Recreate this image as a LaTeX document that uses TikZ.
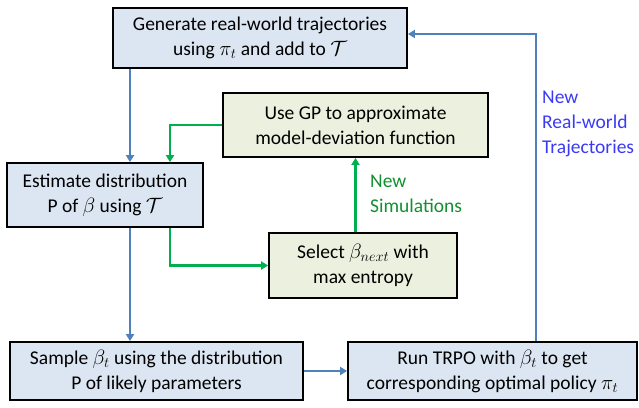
\documentclass[tikz,border=0pt]{standalone}
\usepackage{fontspec}
\setmainfont{Carlito}
\usetikzlibrary{arrows.meta,calc}
\definecolor{bfill}{HTML}{DCE6F2}
\definecolor{gfill}{HTML}{EBF1DE}
\definecolor{barr}{HTML}{4F81BD}
\definecolor{garr}{HTML}{00B050}
\definecolor{btxt}{HTML}{3A3AF5}
\definecolor{gtxt}{HTML}{109030}
\begin{document}
\begin{tikzpicture}[x=1pt,y=-1pt,
  base/.style={draw=black,line width=1.8pt,align=center,inner sep=0pt,
    font=\fontsize{19.5}{25}\selectfont},
  bbox/.style={base,fill=bfill},
  gbox/.style={base,fill=gfill},
  barrow/.style={draw=barr,line width=2.8pt,-{Triangle[length=7pt,width=8pt]}},
  garrow/.style={draw=garr,line width=2.8pt,-{Triangle[length=7pt,width=8pt]}},
  lbl/.style={align=left,inner sep=0pt,anchor=north west,font=\fontsize{19.5}{25}\selectfont}]
\useasboundingbox (0,0) rectangle (639,407);
\node[bbox,minimum width=294pt,minimum height=60pt] (gen) at (260,38)
  {Generate real-world trajectories\\using $\pi_t$ and add to $\mathcal{T}$};
\node[gbox,minimum width=265pt,minimum height=64pt] (gp) at (355.5,125)
  {Use GP to approximate\\model-deviation function};
\node[bbox,minimum width=196pt,minimum height=64pt] (est) at (105,195)
  {Estimate distribution\\P of $\beta$ using $\mathcal{T}$};
\node[gbox,minimum width=188pt,minimum height=65pt] (sel) at (363,265.5)
  {Select $\beta_{next}$ with\\max entropy};
\node[bbox,minimum width=293pt,minimum height=58pt] (samp) at (156.5,371)
  {Sample $\beta_t$ using the distribution\\P of likely parameters};
\node[bbox,minimum width=289pt,minimum height=58pt] (trpo) at (492.5,371)
  {Run TRPO with $\beta_t$ to get\\corresponding optimal policy $\pi_t$};
\coordinate (cb) at (130,0);
\coordinate (cg) at (170,0);
\coordinate (cr) at (536,34);
\draw[barrow] (gen.south -| cb) -- (est.north -| cb);
\draw[barrow] (est.south -| cb) -- (samp.north -| cb);
\draw[barrow] (samp.east) -- (trpo.west);
\draw[barrow] (trpo.north -| cr) -- (cr) -- (cr -| gen.east);
\draw[garrow] (gp.west) -| (est.north -| cg);
\draw[garrow] (est.south -| cg) |- (sel.west);
\draw[garrow] (sel.north -| gp.south) -- (gp.south);
\node[lbl,text=btxt] (lr) at (542,91) {New\\Real-world\\Trajectories};
\node[lbl,text=gtxt] (ls) at (370,175) {New\\Simulations};
\end{tikzpicture}
\end{document}
